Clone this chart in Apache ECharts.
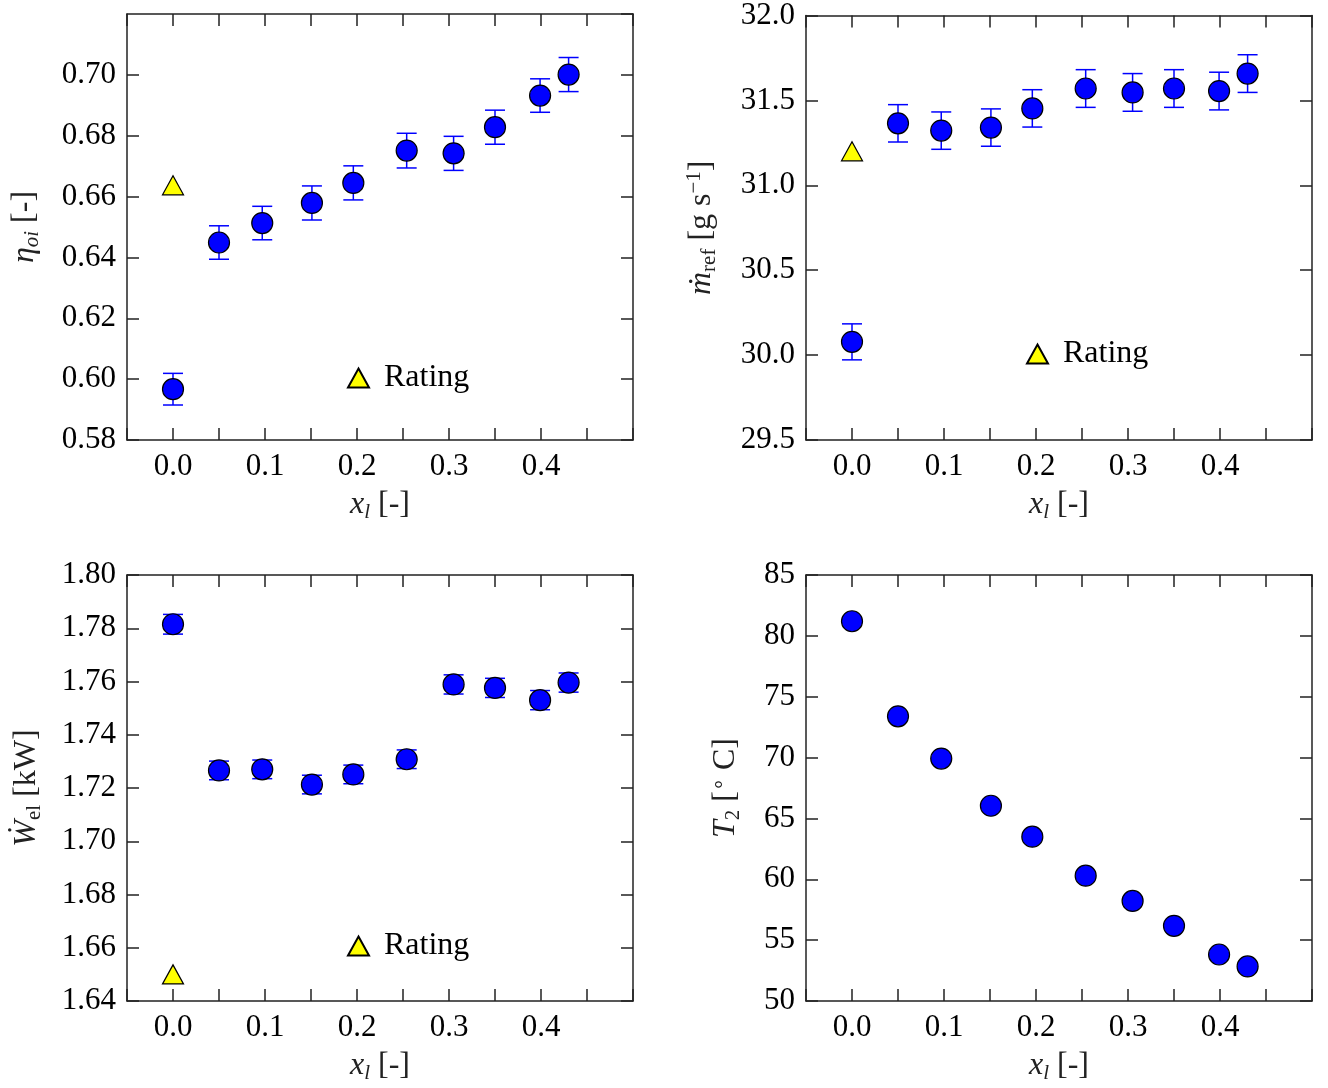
<!DOCTYPE html>
<html>
<head>
<meta charset="utf-8">
<script src="https://cdn.jsdelivr.net/npm/echarts@6/dist/echarts.min.js"></script>
<style>
  html, body { margin: 0; padding: 0; background: #fff; }
  #main { width: 1328px; height: 1088px; }
</style>
</head>
<body>
<div id="main"></div>
<script>
var myChart = echarts.init(document.getElementById('main'));

// liquid injection fraction x_l
var xl = [0.0, 0.05, 0.097, 0.151, 0.196, 0.254, 0.305, 0.35, 0.399, 0.43];

var etaOi    = [0.5967, 0.6449, 0.6513, 0.6579, 0.6645, 0.6751, 0.6742, 0.6828, 0.6932, 0.7001];
var etaOiErr = [0.0052, 0.0055, 0.0055, 0.0056, 0.0056, 0.0057, 0.0056, 0.0056, 0.0055, 0.0056];

var mRef    = [30.078, 31.365, 31.322, 31.340, 31.453, 31.570, 31.547, 31.570, 31.555, 31.658];
var mRefErr = [0.106, 0.110, 0.110, 0.110, 0.110, 0.111, 0.111, 0.111, 0.111, 0.111];

var wEl    = [1.7815, 1.7266, 1.7270, 1.7213, 1.7251, 1.7308, 1.7589, 1.7576, 1.7530, 1.7596];
var wElErr = [0.0037, 0.0035, 0.0035, 0.0035, 0.0035, 0.0035, 0.0036, 0.0036, 0.0036, 0.0036];

var t2 = [81.2, 73.39, 69.92, 66.04, 63.50, 60.30, 58.22, 56.18, 53.82, 52.84];

// manufacturer rating point at x_l = 0
var ratingX   = [0.0];
var ratingEta = [0.6637];
var ratingM   = [31.2];
var ratingW   = [1.65];

var FONT = 'Liberation Serif';
var rich = {
    i:   { fontFamily: FONT, fontSize: 32, fontStyle: 'italic', lineHeight: 36 },
    n:   { fontFamily: FONT, fontSize: 32, lineHeight: 36 },
    s:   { fontFamily: FONT, fontSize: 21, fontStyle: 'italic', verticalAlign: 'bottom', lineHeight: 22 },
    sr:  { fontFamily: FONT, fontSize: 21, verticalAlign: 'bottom', lineHeight: 22 },
    sup: { fontFamily: FONT, fontSize: 21, verticalAlign: 'top', lineHeight: 18 }
};

var panels = [
    { left: 127, top: 14,  min: 0.58, max: 0.72, step: 0.02, dec: 2, hideMax: true,
      name: '{i|η}{s|oi}{n| [-]}', gap: 84,
      y: etaOi, err: etaOiErr, rating: ratingEta, legend: [347, 362] },
    { left: 806, top: 14,  min: 29.5, max: 32.0, step: 0.5, dec: 1, hideMax: false,
      name: '{i|ṁ}{sr|ref}{n| [g s}{sup|−1}{n|]}', gap: 86,
      y: mRef, err: mRefErr, rating: ratingM, legend: [1026, 338] },
    { left: 127, top: 575, min: 1.64, max: 1.80, step: 0.02, dec: 2, hideMax: false,
      name: '{i|Ẇ}{sr|el}{n| [kW]}', gap: 82,
      y: wEl, err: wElErr, rating: ratingW, legend: [347, 930] },
    { left: 806, top: 575, min: 50, max: 85, step: 5, dec: 0, hideMax: false,
      name: '{i|T}{sr|2}{n| [}{sup|∘}{n| C]}', gap: 62,
      y: t2, err: null, rating: null, legend: null }
];

var axisLine = { show: true, onZero: false, lineStyle: { color: '#222', width: 1.5 } };
var axisTick = { show: true, inside: true, length: 12, lineStyle: { color: '#222', width: 1.5 } };

function xLabel(v) {
    var k = Math.round(v * 100);
    if (k % 10 === 0 && k >= 0 && k <= 40) return (k / 100).toFixed(1);
    return '';
}

function errRender(params, api) {
    var x = api.value(0), y = api.value(1), e = api.value(2);
    var lo = api.coord([x, y - e]);
    var hi = api.coord([x, y + e]);
    var w = 10;
    var st = { stroke: '#0000ff', lineWidth: 1.5 };
    return {
        type: 'group',
        children: [
            { type: 'line', shape: { x1: lo[0], y1: lo[1], x2: hi[0], y2: hi[1] }, style: st },
            { type: 'line', shape: { x1: lo[0] - w, y1: lo[1], x2: lo[0] + w, y2: lo[1] }, style: st },
            { type: 'line', shape: { x1: hi[0] - w, y1: hi[1], x2: hi[0] + w, y2: hi[1] }, style: st }
        ]
    };
}

var grids = [], xAxes = [], yAxes = [], series = [], legends = [];

panels.forEach(function (p, i) {
    grids.push({ left: p.left, top: p.top, width: 506, height: 426 });

    xAxes[i] = {
        type: 'value', gridIndex: i, min: -0.05, max: 0.5, interval: 0.05,
        position: 'bottom', axisLine: axisLine, axisTick: axisTick, splitLine: { show: false },
        axisLabel: { formatter: xLabel, fontFamily: FONT, fontSize: 31, color: '#000', margin: 11,
                     showMinLabel: true, showMaxLabel: true },
        name: '{i|x}{s|l}{n| [-]}', nameLocation: 'middle', nameGap: 47,
        nameTextStyle: { rich: rich }
    };
    xAxes[i + 4] = {
        type: 'value', gridIndex: i, min: -0.05, max: 0.5, interval: 0.05,
        position: 'top', axisLine: axisLine, axisTick: axisTick,
        axisLabel: { show: false }, splitLine: { show: false }
    };

    var dec = p.dec;
    yAxes[i] = {
        type: 'value', gridIndex: i, min: p.min, max: p.max, interval: p.step,
        position: 'left', axisLine: axisLine, axisTick: axisTick, splitLine: { show: false },
        axisLabel: { formatter: function (v) { return v.toFixed(dec); },
                     fontFamily: FONT, fontSize: 31, color: '#000', margin: 11,
                     showMaxLabel: !p.hideMax },
        name: p.name, nameLocation: 'middle', nameGap: p.gap, nameRotate: 90,
        nameTextStyle: { rich: rich }
    };
    yAxes[i + 4] = {
        type: 'value', gridIndex: i, min: p.min, max: p.max, interval: p.step,
        position: 'right', axisLine: axisLine, axisTick: axisTick,
        axisLabel: { show: false }, splitLine: { show: false }
    };

    if (p.err) {
        series.push({
            type: 'custom', name: 'err' + i, xAxisIndex: i, yAxisIndex: i,
            renderItem: errRender, encode: { x: 0, y: 1 }, z: 2,
            data: xl.map(function (x, k) { return [x, p.y[k], p.err[k]]; })
        });
    }
    series.push({
        type: 'scatter', name: 'Measured', xAxisIndex: i, yAxisIndex: i,
        symbol: 'circle', symbolSize: 21, z: 3,
        itemStyle: { color: '#0000ff', borderColor: '#000', borderWidth: 1.2, opacity: 1 },
        data: xl.map(function (x, k) { return [x, p.y[k]]; })
    });
    if (p.rating) {
        series.push({
            type: 'scatter', name: 'Rating', xAxisIndex: i, yAxisIndex: i,
            symbol: 'triangle', symbolSize: [21, 19], z: 3,
            itemStyle: { color: '#ffff00', borderColor: '#000', borderWidth: 1.2, opacity: 1 },
            data: ratingX.map(function (x, k) { return [x, p.rating[k]]; })
        });
        legends.push({
            data: ['Rating'], left: p.legend[0], top: p.legend[1], padding: 0,
            icon: 'triangle', itemWidth: 21, itemHeight: 19, selectedMode: false,
            textStyle: { fontFamily: FONT, fontSize: 32, color: '#000', padding: [0, 0, 0, 10] }
        });
    }
});

option = {
    backgroundColor: '#fff',
    animation: false,
    grid: grids,
    xAxis: xAxes,
    yAxis: yAxes,
    legend: legends,
    series: series
};

myChart.setOption(option);
</script>
</body>
</html>
